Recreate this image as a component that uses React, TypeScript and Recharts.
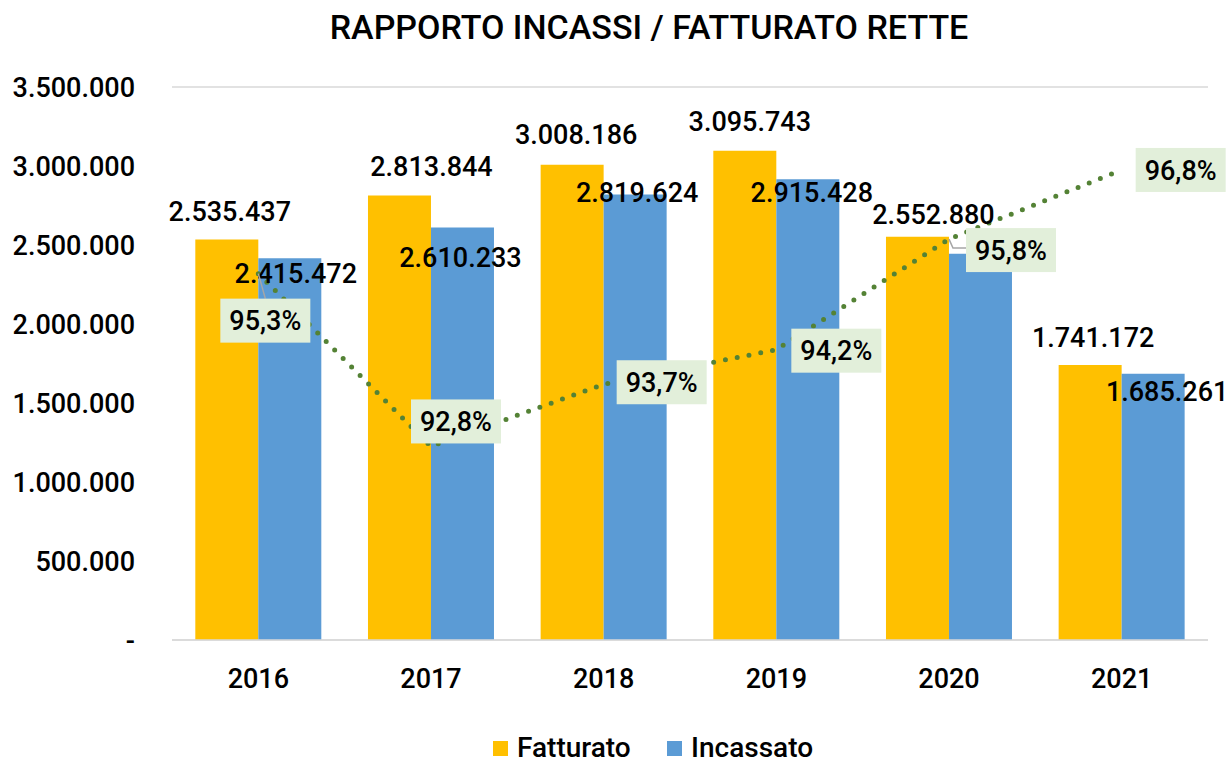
import React from 'react';
import { ComposedChart, Bar, Line, XAxis, YAxis, CartesianGrid, LabelList, Legend } from 'recharts';

const years = ['2016', '2017', '2018', '2019', '2020', '2021'];
const fatturato = [2535437, 2813844, 3008186, 3095743, 2552880, 1741172];
const incassato = [2415472, 2610233, 2819624, 2915428, 2445000, 1685261];
const rapporto = [95.3, 92.8, 93.7, 94.2, 95.8, 96.8];
const rapportoLabels = ['95,3%', '92,8%', '93,7%', '94,2%', '95,8%', '96,8%'];
const yTicks = [0, 500000, 1000000, 1500000, 2000000, 2500000, 3000000, 3500000];
const showIncassatoLabel = [true, true, true, true, false, true];

const data = years.map((y, i) => ({
  year: y,
  fatturato: fatturato[i],
  incassato: incassato[i],
  rapporto: rapporto[i],
}));

// label nudges (dx, dy) relative to bar top centre / line point
const fattOffsets = [[3, -28], [32, -29], [4, -30], [5, -29], [16, -22], [3, -27]];
const incOffsets = [[6, 15], [-2, 30], [2, -2], [4, 13], [0, 0], [14, 18]];
const pctOffsets = [[7, 47], [25, -25], [58, -2], [60, 1], [62, 11], [59, 0]];

const FONT = 'Roboto, "DejaVu Sans", sans-serif';
const YELLOW = '#FFC000';
const BLUE = '#5B9BD5';
const GREEN = '#548235';
const BOX = '#E2EFDA';

const fmt = (v: number) =>
  v === 0 ? '-' : String(Math.round(v)).replace(/\B(?=(\d{3})+(?!\d))/g, '.');

const makeBarLabel = (offsets: number[][], values: number[], show?: boolean[]) => (props: any) => {
  const { x, y, width, value } = props;
  let index = props.index;
  if (index === undefined || index === null) index = values.indexOf(Number(value));
  if (show && !show[index]) return null;
  const o = offsets[index] || [0, 0];
  const cx = Number(x) + Number(width) / 2 + o[0];
  const cy = Number(y) + o[1];
  return (
    <text
      x={cx}
      y={cy}
      dy="0.355em"
      textAnchor="middle"
      fontFamily={FONT}
      fontSize={27}
      fontWeight={500}
      fill="#000"
    >
      {fmt(Number(value))}
    </text>
  );
};

const PctLabel = (props: any) => {
  const { x, y, value } = props;
  let index = props.index;
  if (index === undefined || index === null) index = rapporto.indexOf(Number(value));
  const o = pctOffsets[index] || [0, 0];
  const px = Number(x);
  const py = Number(y);
  const bx = px + o[0];
  const by = py + o[1];
  const w = 90;
  const h = 44;
  let leader: React.ReactNode = null;
  if (index === 0) {
    leader = <line x1={px} y1={py} x2={bx} y2={by - h / 2} stroke="#A6A6A6" strokeWidth={1.5} />;
  } else if (index === 4) {
    leader = (
      <polyline
        points={`${px},${py} ${px + 4},${by - 2} ${bx - w / 2},${by - 2}`}
        fill="none"
        stroke="#A6A6A6"
        strokeWidth={1.5}
      />
    );
  }
  return (
    <g>
      {leader}
      <rect x={bx - w / 2} y={by - h / 2} width={w} height={h} fill={BOX} />
      <text
        x={bx}
        y={by}
        dy="0.355em"
        textAnchor="middle"
        fontFamily={FONT}
        fontSize={27}
        fontWeight={500}
        fill="#000"
      >
        {rapportoLabels[index]}
      </text>
    </g>
  );
};

const LegendContent = () => (
  <div style={{ position: 'relative', width: 1231, height: 30, fontFamily: FONT }}>
    {[
      { name: 'Fatturato', color: YELLOW, left: 493 },
      { name: 'Incassato', color: BLUE, left: 667 },
    ].map((it) => (
      <div
        key={it.name}
        style={{ position: 'absolute', left: it.left, top: 0, display: 'flex', alignItems: 'flex-start' }}
      >
        <div style={{ width: 15, height: 15, background: it.color, marginTop: 7 }} />
        <span style={{ fontSize: 28, fontWeight: 500, lineHeight: '28px', marginLeft: 9, color: '#000', whiteSpace: 'nowrap' }}>
          {it.name}
        </span>
      </div>
    ))}
  </div>
);

export default function App() {
  return (
    <div style={{ position: 'absolute', left: 0, top: 0, width: 1231, height: 762, background: '#fff' }}>
      <div
        style={{
          position: 'absolute',
          left: 0,
          top: 7,
          width: 1298,
          textAlign: 'center',
          fontFamily: FONT,
          fontSize: 34,
          fontWeight: 500,
          lineHeight: '40px',
          color: '#000',
          whiteSpace: 'nowrap',
        }}
      >
        RAPPORTO INCASSI / FATTURATO RETTE
      </div>
      <ComposedChart
        width={1231}
        height={762}
        data={data}
        margin={{ top: 87, right: 23, left: 0, bottom: 62 }}
        barCategoryGap="13.5%"
        barGap={0}
      >
        <CartesianGrid vertical={false} stroke="#D9D9D9" strokeWidth={1.5} />
        <XAxis
          dataKey="year"
          height={60}
          axisLine={{ stroke: '#D9D9D9', strokeWidth: 1.5 }}
          tickLine={false}
          tickMargin={23}
          tick={{ fontFamily: FONT, fontSize: 27, fontWeight: 500, fill: '#000' }}
        />
        <YAxis
          yAxisId="left"
          width={172}
          domain={[0, 3500000]}
          ticks={yTicks}
          tickFormatter={fmt}
          axisLine={false}
          tickLine={false}
          tickMargin={31}
          interval={0}
          tick={{ fontFamily: FONT, fontSize: 27, fontWeight: 500, fill: '#000' }}
        />
        <YAxis yAxisId="pct" orientation="right" domain={[90, 98]} hide />
        <Legend
          layout="horizontal"
          verticalAlign="middle"
          align="center"
          content={LegendContent}
          wrapperStyle={{ position: 'absolute', top: 734, left: 0, width: 1231, height: 30 }}
        />
        <Bar yAxisId="left" dataKey="fatturato" name="Fatturato" fill={YELLOW} isAnimationActive={false}>
          <LabelList dataKey="fatturato" content={makeBarLabel(fattOffsets, fatturato)} />
        </Bar>
        <Bar yAxisId="left" dataKey="incassato" name="Incassato" fill={BLUE} isAnimationActive={false}>
          <LabelList dataKey="incassato" content={makeBarLabel(incOffsets, incassato, showIncassatoLabel)} />
        </Bar>
        <Line
          yAxisId="pct"
          dataKey="rapporto"
          type="linear"
          stroke={GREEN}
          strokeWidth={5}
          strokeDasharray="0 12"
          strokeLinecap="round"
          dot={false}
          activeDot={false}
          legendType="none"
          isAnimationActive={false}
        >
          <LabelList dataKey="rapporto" content={PctLabel} />
        </Line>
      </ComposedChart>
    </div>
  );
}
